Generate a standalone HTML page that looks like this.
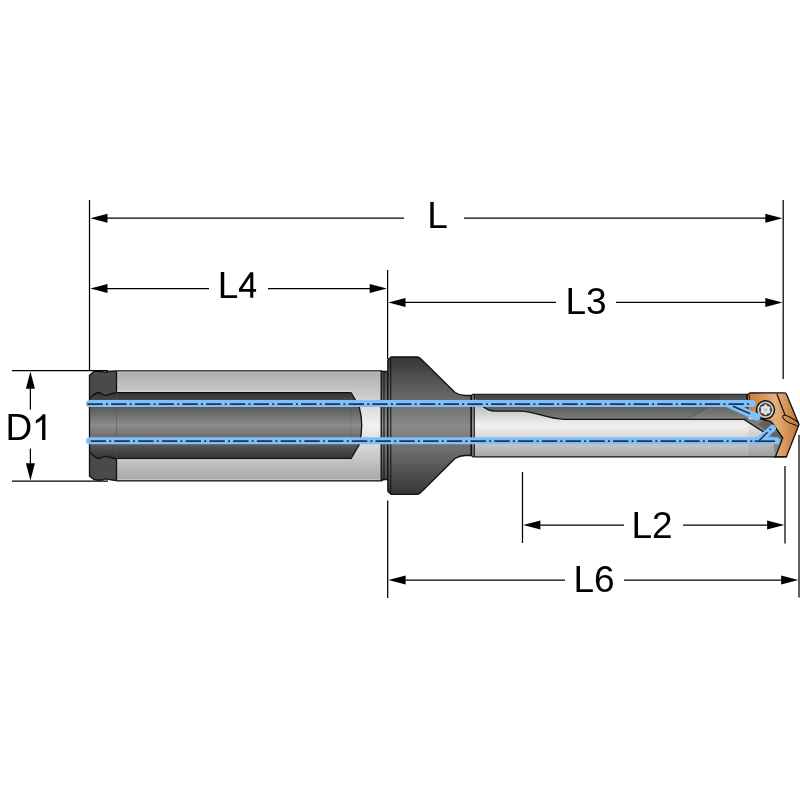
<!DOCTYPE html>
<html><head><meta charset="utf-8">
<style>
html,body{margin:0;padding:0;background:#fff;width:800px;height:800px;overflow:hidden}
svg{display:block}
text{font-family:"Liberation Sans",sans-serif;font-size:37px;fill:#000}
</style></head>
<body>
<svg width="800" height="800" viewBox="0 0 800 800">
<defs>
  <linearGradient id="gShank" gradientUnits="userSpaceOnUse" x1="0" y1="370.5" x2="0" y2="480.5">
    <stop offset="0" stop-color="#acacac"/>
    <stop offset="0.5" stop-color="#f2f2f2"/>
    <stop offset="1" stop-color="#a8a8a8"/>
  </linearGradient>
  <linearGradient id="gChan" gradientUnits="userSpaceOnUse" x1="0" y1="392.5" x2="0" y2="458.5">
    <stop offset="0" stop-color="#333"/>
    <stop offset="0.5" stop-color="#8c8c8c"/>
    <stop offset="1" stop-color="#333"/>
  </linearGradient>
  <linearGradient id="gCollar" gradientUnits="userSpaceOnUse" x1="0" y1="370.5" x2="0" y2="480.5">
    <stop offset="0" stop-color="#3c3c3c"/>
    <stop offset="0.5" stop-color="#8a8a8a"/>
    <stop offset="1" stop-color="#3a3a3a"/>
  </linearGradient>
  <linearGradient id="gFlange" gradientUnits="userSpaceOnUse" x1="0" y1="357" x2="0" y2="494.5">
    <stop offset="0" stop-color="#363636"/>
    <stop offset="0.5" stop-color="#8a8a8a"/>
    <stop offset="1" stop-color="#363636"/>
  </linearGradient>
  <linearGradient id="gBody" gradientUnits="userSpaceOnUse" x1="0" y1="394.4" x2="0" y2="457.2">
    <stop offset="0" stop-color="#a0a0a0"/>
    <stop offset="0.5" stop-color="#f2f2f2"/>
    <stop offset="1" stop-color="#a6a6a6"/>
  </linearGradient>
  <linearGradient id="gFlute" gradientUnits="userSpaceOnUse" x1="0" y1="394.4" x2="0" y2="419">
    <stop offset="0" stop-color="#404040"/>
    <stop offset="1" stop-color="#7a7a7a"/>
  </linearGradient>
  <linearGradient id="gIns" gradientUnits="userSpaceOnUse" x1="748" y1="0" x2="798" y2="0">
    <stop offset="0" stop-color="#c97a35"/>
    <stop offset="0.55" stop-color="#e6b07c"/>
    <stop offset="1" stop-color="#c27433"/>
  </linearGradient>
</defs>

<!-- ============ TOOL ============ -->
<g stroke="none">
  <!-- shank fill -->
  <path d="M116.5,370.8 L381.2,370.8 L385,373 L385,478.8 L381.2,480.9 L116.5,480.9 Z" fill="url(#gShank)"/>
  <!-- flat channel fill -->
  <path d="M116.5,392.6 L351,392.6 L359,406 Q364.5,425.5 359,445 L351,458.6 L116.5,458.6 Z" fill="url(#gChan)"/>
  <!-- collar -->
  <path d="M89.5,375.3 L94,371.5 L97.1,371.2 L102.7,371.8 L105.6,372.1 L108.4,371.5 L116.5,370.8 L116.5,480.6 L107.8,479.4 L105.3,478.8 L102.7,480 L96.5,480 L94,479.4 L89.5,476.3 Z" fill="#4a4a4a"/>
  <path d="M89.5,398.7 C92,396 95,392.6 98.5,392.5 C101.5,392.5 102.5,395.3 105,395.3 C108,395.3 112,393 116.5,392.6 L116.5,458.6 C112,458.2 108,456.3 105,456.3 C102.5,456.3 101.5,458.7 99,458.7 C95,458.5 92,454.5 89.5,451.6 Z" fill="url(#gChan)"/>
</g>
<g stroke="#111" stroke-width="1.3" stroke-linejoin="round" fill="none">
  <path d="M116.5,370.8 L381.2,370.8 L385,373 L385,478.8 L381.2,480.9 L116.5,480.9"/>
  <path d="M116.5,392.6 L351,392.6 L359,406 Q364.5,425.5 359,445 L351,458.6 L116.5,458.6"/>
  <path d="M116.5,370.8 L108.4,371.5 L105.6,372.1 L102.7,371.8 L97.1,371.2 L94,371.5 L89.5,375.3 L89.5,476.3 L94,479.4 L96.5,480 L102.7,480 L105.3,478.8 L107.8,479.4 L116.5,480.6"/>
  <path d="M89.5,398.7 C92,396 95,392.6 98.5,392.5 C101.5,392.5 102.5,395.3 105,395.3 C108,395.3 112,393 116.5,392.6"/>
  <path d="M116.5,458.6 C112,458.2 108,456.3 105,456.3 C102.5,456.3 101.5,458.7 99,458.7 C95,458.5 92,454.5 89.5,451.6"/>
  <line x1="116.5" y1="371" x2="116.5" y2="392.6"/>
  <line x1="116.5" y1="458.6" x2="116.5" y2="480.5"/>
</g>
<g stroke-width="0.9">
<line x1="117.2" y1="372.1" x2="380.5" y2="372.1" stroke="#c4c4c4"/>
<line x1="117.2" y1="391.2" x2="351" y2="391.2" stroke="#dadada"/>
<line x1="117.2" y1="459.9" x2="351" y2="459.9" stroke="#d6d6d6"/>
<line x1="117.2" y1="479.5" x2="380.5" y2="479.5" stroke="#c8c8c8"/>
</g>
<line x1="116.5" y1="392.6" x2="116.5" y2="458.6" stroke="#333" stroke-width="0.6" opacity="0.5"/>
<line x1="351" y1="392.6" x2="351" y2="458.6" stroke="#555" stroke-width="0.6" opacity="0.5"/>
<g stroke="#111" stroke-width="1.3" stroke-linejoin="round">
  <!-- groove -->
  <path d="M381.2,371.5 L388,371.5 L388,479.5 L381.2,479.5 Z" fill="url(#gFlange)"/>
  <!-- flange + cone + neck -->
  <path d="M387.8,360 L391,357 L417,357 Q419,357 421,359 L455,392.5 Q460,395.5 465,395.5 L472,395.5 L472,455.5 L465,455.5 Q460,455.5 455,458.5 L421,492.3 Q419,494.4 417,494.4 L391,494.4 L387.8,491.2 Z" fill="url(#gFlange)"/>
  <!-- drill body -->
  <path d="M471.3,396 L473,394.3 L776,394.3 L776,456.8 L473,456.8 L471.3,455.2 Z" fill="url(#gBody)"/>
</g>
<path d="M474.3,394.6 L748.5,394.6 L748.5,419.3 L565,419.3 C545,418.8 537,411.5 520,411.2 L496,411.2 Q487,410.8 482,405.5 L474.3,398 Z" fill="url(#gFlute)" stroke="none"/>
<path d="M748.5,419.3 L565,419.3 C545,418.8 537,411.5 520,411.2 L496,411.2 Q487,410.8 482,405.5" fill="none" stroke="#111" stroke-width="1.3"/>
<rect x="471.6" y="395.2" width="2.6" height="61" fill="url(#gFlange)" opacity="0.9"/>
<path d="M687.5,419 Q712,406 721.5,394.8 L748.5,394.8 L748.5,419 Z" fill="#fff" opacity="0.06"/>
<path d="M687.5,418.8 Q712,406 721.5,394.8" fill="none" stroke="#333" stroke-width="0.7" opacity="0.5"/>
<g stroke="#111" stroke-width="1" fill="none">
  <line x1="384" y1="372" x2="384" y2="479"/>
  <line x1="390.8" y1="358.5" x2="390.8" y2="493"/>
  <line x1="474.3" y1="395" x2="474.3" y2="456.5"/>
  <line x1="471.2" y1="395.5" x2="471.2" y2="455.8" stroke-width="1.4"/>
</g>

<!-- insert -->
<path d="M743.75,419.3 L765,419.3 L770,421.3 L773.5,424.5 L782.7,438 L775.6,455.8 L774.5,455.8 L774,445 L766.5,433.8 Z" fill="#868686"/>
<path d="M765,419.3 L770,421.3 L773.5,424.5 L782.7,438 L777,440 L768,432 L758,424 Z" fill="#666"/>
<path d="M743.75,419.3 L766.5,433.8" stroke="#111" stroke-width="1.3"/>
<path d="M774,445 L774.6,456" stroke="#999" stroke-width="1"/>
<path d="M747,395.2 L750,393 L784.5,392.9 Q786,393 786.6,394.5 L799,424.5 L786.5,456.6 L775.6,456.6 L782.7,438 L773.5,424.5 L770,421.3 L757,418 L747.5,411 Z" fill="url(#gIns)" stroke="#111" stroke-width="1.3" stroke-linejoin="round"/>
<path d="M747.5,395 L747.5,411" stroke="#111" stroke-width="1.2"/>
<path d="M749.5,395 L749.5,400" stroke="#111" stroke-width="0.8"/>
<path d="M776.9,394 L785,415" stroke="#111" stroke-width="1.2" fill="none"/>
<path d="M785,415 C783.3,415 782.5,416 782.7,416.8 C783.5,419.5 788,422.5 792.6,424 C794.5,424.8 796,425.3 797.5,425.9 M785,415 C788,416 791,417.6 794,419.5 C796,420.7 797.2,421.5 798.2,422.3" stroke="#111" stroke-width="1.1" fill="none"/>
<path d="M791.5,407 L793,410" stroke="#111" stroke-width="0.8"/>
<path d="M782.7,438 L773.5,424.5" stroke="#111" stroke-width="1.2"/>
<path d="M774,456.8 L787,456.8" stroke="#111" stroke-width="1.6"/>
<!-- screw -->
<rect x="748.5" y="419.3" width="25.5" height="37.5" fill="#000" opacity="0.06"/>
<circle cx="765.5" cy="409.8" r="9" fill="#cdcdcd" stroke="#111" stroke-width="1.5"/>
<circle cx="765.5" cy="409.8" r="6.5" fill="#2a2a2a"/>
<circle cx="765.5" cy="409.8" r="5.8" fill="#555"/>
<path d="M765.50,404.60 L767.30,406.68 L770.00,407.20 L769.10,409.80 L770.00,412.40 L767.30,412.92 L765.50,415.00 L763.70,412.92 L761.00,412.40 L761.90,409.80 L761.00,407.20 L763.70,406.68 Z" fill="#eaeaea" stroke="#eaeaea" stroke-width="0.9" stroke-linejoin="round"/>
<circle cx="765.5" cy="409.8" r="2.4" fill="#c8c8c8"/>

<!-- coolant channels -->
<g fill="none" stroke="#7fc0fb" stroke-width="7" stroke-linecap="round">
  <line x1="89.5" y1="403.5" x2="752.2" y2="403.5"/>
  <line x1="728" y1="404" x2="757" y2="417"/>
  <line x1="89.5" y1="440.7" x2="776.4" y2="440.7"/>
  <line x1="758.5" y1="440.7" x2="772.5" y2="428.3"/>
</g>
<g fill="none" stroke="#1d3550" stroke-width="1.7" stroke-dasharray="15.4 3.2 2 3.144">
  <line x1="87.4" y1="404.1" x2="750" y2="404.1"/>
  <line x1="90.65" y1="441.2" x2="752.5" y2="441.2"/>
  <line x1="754.7" y1="441.2" x2="775" y2="441.2" stroke-dasharray="none"/>
</g>
<g stroke="#1a2a3a" stroke-width="1.5" fill="none">
  <line x1="733" y1="406.3" x2="750" y2="413.6"/>
  <line x1="759.3" y1="440.5" x2="767.5" y2="432.3"/>
  <line x1="769.8" y1="429.8" x2="770.8" y2="428.9" stroke-width="1.8"/>
</g>

<!-- ============ DIMENSIONS ============ -->
<g stroke="#000" stroke-width="1.25" fill="none">
  <!-- extension lines -->
  <line x1="89.5" y1="200" x2="89.5" y2="371"/>
  <line x1="783.2" y1="200" x2="783.2" y2="379"/>
  <line x1="387.6" y1="270" x2="387.6" y2="359"/>
  <line x1="387.7" y1="500.5" x2="387.7" y2="598"/>
  <line x1="522.5" y1="472" x2="522.5" y2="543"/>
  <line x1="785" y1="466" x2="785" y2="543.5"/>
  <line x1="799" y1="435" x2="799" y2="597.5"/>
  <line x1="12" y1="370.6" x2="108" y2="370.6"/>
  <line x1="12" y1="481" x2="108" y2="481"/>
  <!-- L -->
  <line x1="100" y1="218.2" x2="404" y2="218.2"/>
  <line x1="464" y1="218.2" x2="772" y2="218.2"/>
  <!-- L4 -->
  <line x1="100" y1="288.6" x2="209" y2="288.6"/>
  <line x1="268" y1="288.6" x2="377" y2="288.6"/>
  <!-- L3 -->
  <line x1="398" y1="302.4" x2="556" y2="302.4"/>
  <line x1="616" y1="302.4" x2="772" y2="302.4"/>
  <!-- L2 -->
  <line x1="532" y1="525" x2="624" y2="525"/>
  <line x1="683" y1="525" x2="775" y2="525"/>
  <!-- L6 -->
  <line x1="398" y1="580" x2="565" y2="580"/>
  <line x1="624" y1="580" x2="789" y2="580"/>
  <!-- D1 -->
  <line x1="30.4" y1="380" x2="30.4" y2="409.6"/>
  <line x1="30.4" y1="448.6" x2="30.4" y2="472"/>
</g>
<g fill="#000" stroke="none">
  <!-- arrowheads: tip, base -->
  <path d="M90.3,218.2 L107.5,213.7 L107.5,222.7 Z"/>
  <path d="M782.5,218.2 L765.3,213.7 L765.3,222.7 Z"/>
  <path d="M90.3,288.6 L107.5,284.1 L107.5,293.1 Z"/>
  <path d="M386.9,288.6 L369.7,284.1 L369.7,293.1 Z"/>
  <path d="M388.3,302.4 L405.5,297.9 L405.5,306.9 Z"/>
  <path d="M782.5,302.4 L765.3,297.9 L765.3,306.9 Z"/>
  <path d="M523.2,525 L540.4,520.5 L540.4,529.5 Z"/>
  <path d="M784.3,525 L767.1,520.5 L767.1,529.5 Z"/>
  <path d="M388.4,580 L405.6,575.5 L405.6,584.5 Z"/>
  <path d="M798.3,580 L781.1,575.5 L781.1,584.5 Z"/>
  <path d="M30.4,371.6 L25.9,388.8 L34.9,388.8 Z"/>
  <path d="M30.4,480.4 L25.9,463.2 L34.9,463.2 Z"/>
</g>
<g opacity="0.999">
<text x="430.3" y="228" text-anchor="start" transform="translate(-3.03,0)">L</text>
<text x="220.7" y="297.8" transform="translate(-3.03,0)">L</text>
<path d="M250.2,272.2 L253.3,272.2 L253.3,288.9 L256.1,288.9 L256.1,291.7 L253.3,291.7 L253.3,297.8 L250.2,297.8 L250.2,291.7 L239,291.7 L239,288.7 Z M250.2,276.9 L242.3,288.9 L250.2,288.9 Z" fill="#000" fill-rule="evenodd"/>
<text x="568.5" y="313.5" transform="translate(-3.03,0)">L3</text>
<text x="634.5" y="538" transform="translate(-3.03,0)">L2</text>
<text x="576.5" y="591.8" transform="translate(-3.03,0)">L6</text>
<text x="8.6" y="440.1" transform="translate(-3.03,0)">D</text>
<path d="M45.4,414.3 L45.4,440.1 L42.1,440.1 L42.1,419.4 C40.6,420.9 38.3,422.3 35.8,423.4 L35.8,420.3 C38.9,418.8 41.2,416.7 42.7,414.3 Z" fill="#000"/>
</g>
</svg>
</body></html>
